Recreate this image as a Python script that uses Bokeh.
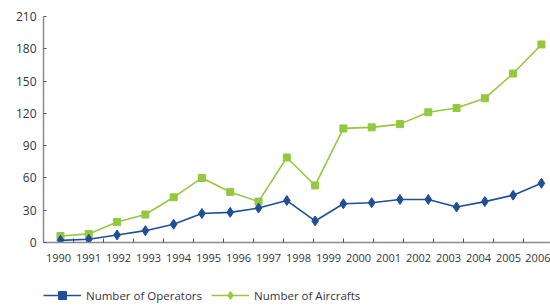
from bokeh.plotting import figure
from bokeh.layouts import column
from bokeh.models import (Range1d, LinearAxis, FixedTicker, Legend, LegendItem)
from bokeh.embed import file_html
from bokeh.resources import INLINE

years = [str(y) for y in range(1990, 2007)]
operators = [2, 3, 7, 11, 17, 27, 28, 32, 39, 20, 36, 37, 40, 40, 33, 38, 44, 55]
aircrafts = [6, 8, 19, 26, 42, 60, 47, 38, 79, 53, 106, 107, 110, 121, 125, 134, 157, 184]
y_ticks = [0, 30, 60, 90, 120, 150, 180, 210]

BLUE = "#1f4f97"
GREEN = "#93c840"
TXT = "#333344"
AX = "#8a8a8a"
FONT = "Open Sans"

idx = list(range(len(operators)))

p = figure(width=550, height=264, output_backend="svg", toolbar_location=None,
           x_range=Range1d(-0.6, 17.32), y_range=Range1d(0, 210),
           x_axis_location=None, min_border_left=43, min_border_right=0,
           min_border_top=16, min_border_bottom=22)
p.outline_line_color = None
p.border_fill_color = "white"
p.xgrid.visible = False
p.ygrid.visible = False

# data
p.line(idx, aircrafts, line_color=GREEN, line_width=1.6)
p.scatter(idx, aircrafts, marker="square", size=7, fill_color=GREEN, line_color=GREEN)
p.line(idx, operators, line_color=BLUE, line_width=1.6)
p.scatter(idx, operators, marker="diamond", size=10, fill_color=BLUE, line_color=BLUE)

# y axis
ya = p.yaxis[0]
ya.ticker = FixedTicker(ticks=y_ticks)
ya.axis_line_color = AX
ya.axis_line_width = 1.5
ya.major_tick_line_color = "#555555"
ya.major_tick_in = 3
ya.major_tick_out = 0
ya.minor_tick_line_color = None
ya.major_label_text_font = FONT
ya.major_label_text_font_size = "12px"
ya.major_label_text_color = TXT
ya.major_label_standoff = 7

# x category axis with ticks at boundaries
p.extra_x_ranges = {"yr": Range1d(0, 507 / 30)}
centers = [i + 0.5 for i in range(len(years))]
xa = LinearAxis(x_range_name="yr",
                ticker=FixedTicker(ticks=centers, minor_ticks=list(range(len(years) + 1))))
xa.major_label_overrides = {c: y for c, y in zip(centers, years)}
xa.major_tick_line_color = None
xa.minor_tick_line_color = "#555555"
xa.minor_tick_in = 4
xa.minor_tick_out = 0
xa.axis_line_color = AX
xa.axis_line_width = 1.5
xa.major_label_text_font = FONT
xa.major_label_text_font_size = "11px"
xa.major_label_text_color = TXT
xa.major_label_standoff = 5
p.add_layout(xa, "below")

# legend strip (markers as shown in the original legend); series drawn off-range
q = figure(width=550, height=43, output_backend="svg", toolbar_location=None,
           x_range=Range1d(0, 1), y_range=Range1d(-2, -1),
           x_axis_location=None, y_axis_location=None,
           min_border_left=0, min_border_right=0, min_border_top=0, min_border_bottom=0)
q.outline_line_color = None
q.xgrid.visible = False
q.ygrid.visible = False
l1 = q.line(idx, operators, line_color=BLUE, line_width=1.6)
m1 = q.scatter(idx, operators, marker="square", size=7, fill_color=BLUE, line_color=BLUE)
l2 = q.line(idx, aircrafts, line_color=GREEN, line_width=1.6)
m2 = q.scatter(idx, aircrafts, marker="diamond", size=10, fill_color=GREEN, line_color=GREEN)
legend = Legend(items=[LegendItem(label="Number of Operators", renderers=[l1, m1]),
                       LegendItem(label="Number of Aircrafts", renderers=[l2, m2])],
                orientation="horizontal", location=(0, 2),
                glyph_width=38, glyph_height=20, label_standoff=5, spacing=9,
                padding=0, margin=0, border_line_color=None, background_fill_alpha=0,
                label_text_font=FONT, label_text_font_size="11.5px", label_text_color=TXT,
                label_height=20)
q.add_layout(legend, "center")

open("out.html", "w").write(file_html(column(p, q, spacing=0), INLINE))
